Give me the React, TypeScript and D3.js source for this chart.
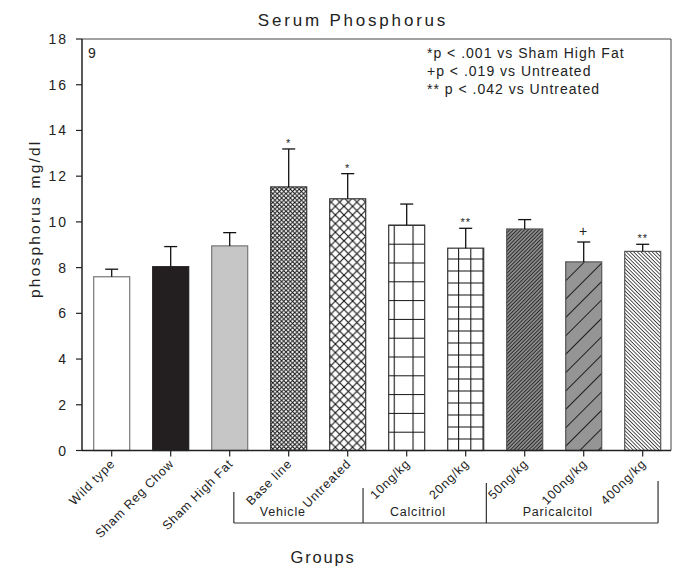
import React from "react";
import * as d3 from "d3";

const categories = ["Wild type", "Sham Reg Chow", "Sham High Fat", "Base line", "Untreated", "10ng/kg", "20ng/kg", "50ng/kg", "100ng/kg", "400ng/kg"];
const means = [7.6, 8.04, 8.95, 11.53, 11.01, 9.86, 8.85, 9.69, 8.25, 8.71];
const errors = [0.33, 0.88, 0.58, 1.66, 1.1, 0.92, 0.87, 0.41, 0.87, 0.31];
const marks = ["", "", "", "*", "*", "", "**", "", "+", "**"];
const yTicks = [0, 2, 4, 6, 8, 10, 12, 14, 16, 18];
const notes = ["*p < .001 vs Sham High Fat", "+p < .019 vs Untreated", "** p < .042 vs Untreated"];
const groupNames = ["Vehicle", "Calcitriol", "Paricalcitol"];
// group bracket bounds and label centres, in category-index units
const groupBounds = [2.07, 4.26, 6.35, 9.26];
const groupLabelPos = [2.9, 5.19, 7.56];

const W = 679, H = 568;
const left = 82, right = 671, top = 39, bottom = 450.5;
const FONT = "'Liberation Sans', Arial, sans-serif";

const fills = ["#ffffff", "#231f20", "#c6c6c6", "url(#pBase)", "url(#pUntr)", "url(#p10)", "url(#p20)", "url(#p50)", "url(#p100)", "url(#p400)"];
const strokes = ["#777", "#231f20", "#777", "#333", "#333", "#333", "#333", "#555", "#555", "#555"];

export default function App() {
  const y = d3.scaleLinear().domain([0, 18]).range([bottom, top]);
  const x = d3.scaleBand<string>().domain(categories).range([93.7, 93.7 + 567]).paddingInner(0.39).paddingOuter(0);
  const bw = x.bandwidth();
  const step = x.step();
  const cx = (c: string) => (x(c) as number) + bw / 2;
  const idx = d3.scaleLinear().domain([0, 1]).range([cx(categories[0]), cx(categories[0]) + step]);

  const b10 = x(categories[5]) as number;
  const b20 = x(categories[6]) as number;

  return (
    <svg width={W} height={H} style={{ position: "absolute", left: 0, top: 0, background: "#fff" }} fontFamily={FONT}>
      <defs>
        <pattern id="pBase" patternUnits="userSpaceOnUse" width={4.4} height={4.4}>
          <rect width={4.4} height={4.4} fill="#fff" />
          <path d="M0,0L4.4,4.4M4.4,0L0,4.4" stroke="#111" strokeWidth={1} />
        </pattern>
        <pattern id="pUntr" patternUnits="userSpaceOnUse" width={8.6} height={8.6}>
          <rect width={8.6} height={8.6} fill="#fff" />
          <path d="M0,0L8.6,8.6M8.6,0L0,8.6" stroke="#111" strokeWidth={1.1} />
        </pattern>
        <pattern id="p10" patternUnits="userSpaceOnUse" x={b10 + 5} y={bottom} width={18.8} height={18.8}>
          <rect width={18.8} height={18.8} fill="#fff" />
          <path d="M0.5,0V18.8M0,0.5H18.8" stroke="#111" strokeWidth={1.1} />
        </pattern>
        <pattern id="p20" patternUnits="userSpaceOnUse" x={b20 + 10.4} y={bottom} width={12.2} height={12}>
          <rect width={12.2} height={12} fill="#fff" />
          <path d="M0.5,0V12M0,0.5H12.2" stroke="#111" strokeWidth={1.1} />
        </pattern>
        <pattern id="p50" patternUnits="userSpaceOnUse" width={10} height={2.6} patternTransform="rotate(-45)">
          <rect width={10} height={2.6} fill="#8a8a8a" />
          <line x1={0} x2={10} y1={0.4} y2={0.4} stroke="#111" strokeWidth={0.8} />
        </pattern>
        <pattern id="p100" patternUnits="userSpaceOnUse" width={20} height={13} patternTransform="rotate(-45)">
          <rect width={20} height={13} fill="#959595" />
          <line x1={0} x2={20} y1={0.5} y2={0.5} stroke="#111" strokeWidth={0.9} />
        </pattern>
        <pattern id="p400" patternUnits="userSpaceOnUse" width={10} height={2.6} patternTransform="rotate(45)">
          <rect width={10} height={2.6} fill="#fff" />
          <line x1={0} x2={10} y1={0.4} y2={0.4} stroke="#111" strokeWidth={0.8} />
        </pattern>
      </defs>

      <text x={353} y={26} textAnchor="middle" fontSize={17} letterSpacing={2.8} fill="#222">Serum Phosphorus</text>

      {/* frame */}
      <line x1={left} x2={right} y1={top} y2={top} stroke="#444" strokeWidth={1} />
      <line x1={right} x2={right} y1={top} y2={bottom} stroke="#444" strokeWidth={1} />

      {/* bars */}
      {categories.map((c, i) => (
        <rect key={c} x={x(c)} y={y(means[i])} width={bw} height={bottom - y(means[i])} fill={fills[i]} stroke={strokes[i]} strokeWidth={1.2} />
      ))}

      {/* error bars */}
      {categories.map((c, i) => (
        <g key={c + "e"} stroke="#111" strokeWidth={1.3}>
          <line x1={cx(c)} x2={cx(c)} y1={y(means[i])} y2={y(means[i] + errors[i])} />
          <line x1={cx(c) - 6.5} x2={cx(c) + 6.5} y1={y(means[i] + errors[i])} y2={y(means[i] + errors[i])} />
        </g>
      ))}
      {categories.map((c, i) =>
        marks[i] ? (
          <text key={c + "m"} x={cx(c)} y={y(means[i] + errors[i]) - (marks[i] === "+" ? 6 : 2)} textAnchor="middle" fontSize={marks[i] === "+" ? 14 : 11} letterSpacing={1} fill="#222">
            {marks[i]}
          </text>
        ) : null
      )}

      {/* y axis */}
      <line x1={left} x2={left} y1={top} y2={bottom} stroke="#222" strokeWidth={1.5} />
      {yTicks.map((t) => (
        <g key={t}>
          <line x1={left - 6} x2={left} y1={y(t)} y2={y(t)} stroke="#222" strokeWidth={1.2} />
          <text x={68} y={y(t)} dy="0.36em" textAnchor="end" fontSize={14} letterSpacing={2} fill="#222">{t}</text>
        </g>
      ))}
      <text transform={`translate(40,${(top + bottom) / 2 - 26}) rotate(-90)`} textAnchor="middle" fontSize={15.5} letterSpacing={2.2} fill="#222">phosphorus mg/dl</text>

      <text x={88} y={58} fontSize={14} fill="#222">9</text>

      {notes.map((n, i) => (
        <text key={n} x={427} y={58 + i * 18} fontSize={14} letterSpacing={1} fill="#222">{n}</text>
      ))}

      {/* x axis */}
      <line x1={left} x2={right} y1={bottom} y2={bottom} stroke="#222" strokeWidth={1.5} />
      {categories.map((c) => (
        <g key={c + "t"}>
          <line x1={cx(c)} x2={cx(c)} y1={bottom} y2={bottom + 6} stroke="#222" strokeWidth={1.2} />
          <text transform={`translate(${cx(c) + 4},${bottom + 14}) rotate(-45)`} textAnchor="end" fontSize={12.5} letterSpacing={0.8} fill="#222">{c}</text>
        </g>
      ))}

      {/* group brackets */}
      <g stroke="#333" strokeWidth={1.2}>
        <line x1={idx(groupBounds[0])} x2={idx(groupBounds[3])} y1={523} y2={523} />
        {groupBounds.map((b, i) => (
          <line key={i} x1={idx(b)} x2={idx(b)} y1={[492, 488, 483, 481][i]} y2={523} />
        ))}
      </g>
      {groupNames.map((g, i) => (
        <text key={g} x={idx(groupLabelPos[i])} y={516} textAnchor="middle" fontSize={12.5} letterSpacing={0.8} fill="#222">{g}</text>
      ))}

      <text x={323} y={563} textAnchor="middle" fontSize={16.5} letterSpacing={1.8} fill="#222">Groups</text>
    </svg>
  );
}
